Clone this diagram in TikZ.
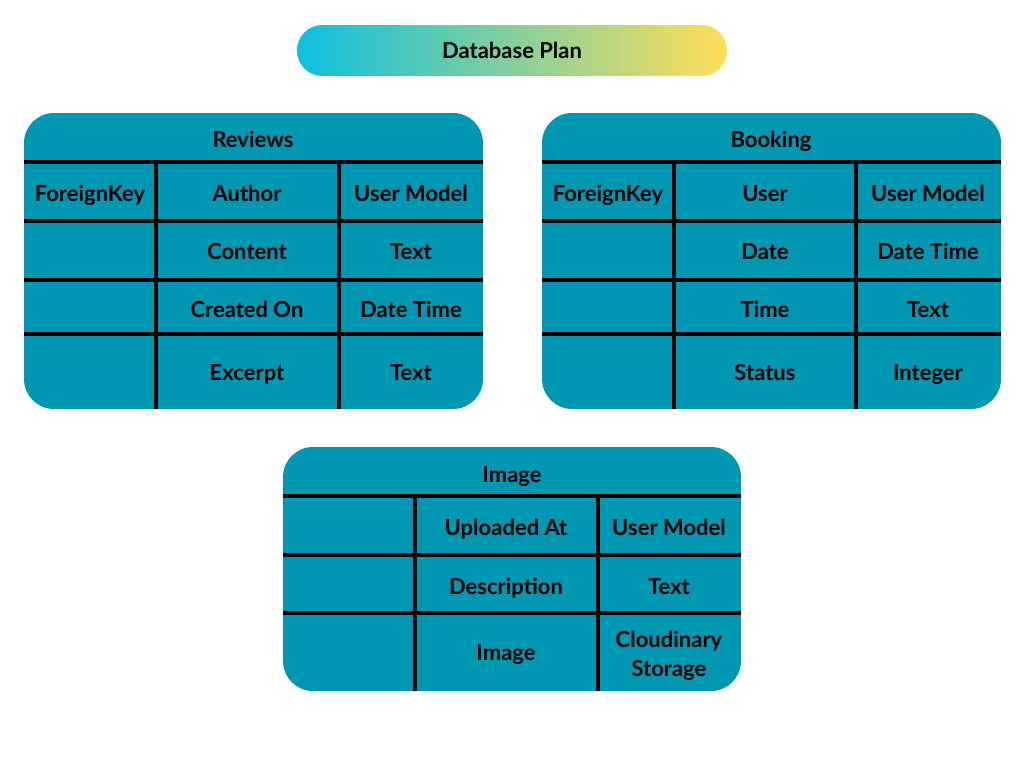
\documentclass[tikz,border=0pt]{standalone}
\usepackage{fontspec}
\setmainfont{Lato}
\usepackage{tikz}

\definecolor{teal}{HTML}{0097B2}
\definecolor{cyanstart}{HTML}{0CC0DF}
\definecolor{yellowend}{HTML}{FFDE59}

\tikzset{
  celltext/.style={font=\bfseries\fontsize{16.5}{21.5}\selectfont, align=center, text=black},
  cell/.style={celltext, text height=15pt, text depth=2pt},
  tablebox/.style={fill=teal, rounded corners=22.5pt},
  rule/.style={black, line width=3pt}
}

\begin{document}
\begin{tikzpicture}[x=0.75pt,y=-0.75pt]
        \useasboundingbox (0,0) rectangle (1024,768);
        % title
        \shade[left color=cyanstart, right color=yellowend, rounded corners=19pt] (297,25) rectangle (727,76);
        \node[cell] (title) at (512,50) {Database Plan};

        % reviews table
        \fill[tablebox] (24,113) rectangle (483,409);
        \draw[rule] (24,162) -- (483,162);
        \draw[rule] (24,221) -- (483,221);
        \draw[rule] (24,280) -- (483,280);
        \draw[rule] (24,334) -- (483,334);
        \draw[rule] (156,162) -- (156,409);
        \draw[rule] (339,162) -- (339,409);
        \node[cell] (reviews) at (253,139) {Reviews};
        \node[cell] (revfk) at (90,193) {ForeignKey};
        \node[cell] (revauthor) at (247,193) {Author};
        \node[cell] (revauthortype) at (411,193) {User Model};
        \node[cell] (revcontent) at (247,251) {Content};
        \node[cell] (revcontenttype) at (411,251) {Text};
        \node[cell] (revcreated) at (247,309) {Created On};
        \node[cell] (revcreatedtype) at (411,309) {Date Time};
        \node[cell] (revexcerpt) at (247,372) {Excerpt};
        \node[cell] (revexcerpttype) at (411,372) {Text};

        % booking table
        \fill[tablebox] (542,113) rectangle (1001,409);
        \draw[rule] (542,162) -- (1001,162);
        \draw[rule] (542,221) -- (1001,221);
        \draw[rule] (542,280) -- (1001,280);
        \draw[rule] (542,334) -- (1001,334);
        \draw[rule] (674,162) -- (674,409);
        \draw[rule] (856,162) -- (856,409);
        \node[cell] (booking) at (771,139) {Booking};
        \node[cell] (bookfk) at (608,193) {ForeignKey};
        \node[cell] (bookuser) at (765,193) {User};
        \node[cell] (bookusertype) at (928,193) {User Model};
        \node[cell] (bookdate) at (765,251) {Date};
        \node[cell] (bookdatetype) at (928,251) {Date Time};
        \node[cell] (booktime) at (765,309) {Time};
        \node[cell] (booktimetype) at (928,309) {Text};
        \node[cell] (bookstatus) at (765,372) {Status};
        \node[cell] (bookstatustype) at (928,372) {Integer};

        % image table
        \fill[tablebox] (283,447) rectangle (741,691);
        \draw[rule] (283,496) -- (741,496);
        \draw[rule] (283,555) -- (741,555);
        \draw[rule] (283,613) -- (741,613);
        \draw[rule] (415,496) -- (415,691);
        \draw[rule] (598,496) -- (598,691);
        \node[cell] (image) at (512,474) {Image};
        \node[cell] (imguploaded) at (506,527) {Uploaded At};
        \node[cell] (imguploadedtype) at (669,527) {User Model};
        \node[cell] (imgdesc) at (506,586) {Description};
        \node[cell] (imgdesctype) at (669,586) {Text};
        \node[cell] (imgimage) at (506,652) {Image};
        \node[celltext] (imgimagetype) at (669,656) {Cloudinary\\Storage};
\end{tikzpicture}
\end{document}
